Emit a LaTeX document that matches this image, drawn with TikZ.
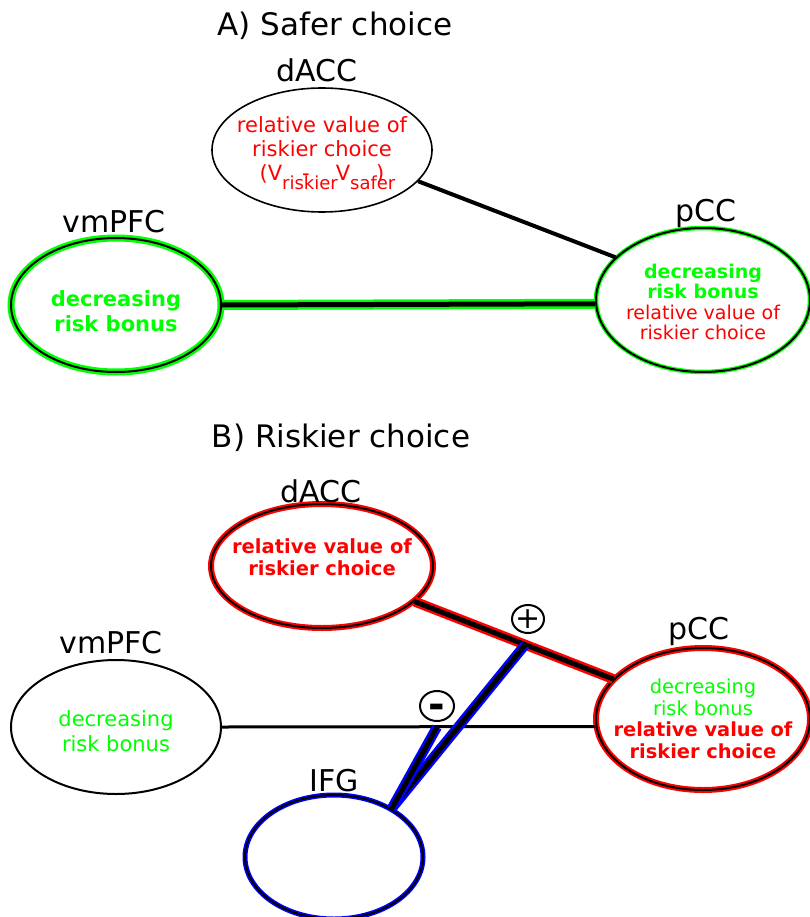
\documentclass[tikz,border=0pt]{standalone}
\usepackage{fontspec}
\setmainfont{DejaVu Sans}
\usetikzlibrary{shapes.geometric,calc}
\definecolor{brgreen}{RGB}{0,255,0}
\definecolor{brred}{RGB}{255,0,0}
\definecolor{brblue}{RGB}{0,0,255}
\newcommand{\gbold}[1]{\textcolor{brgreen}{\bfseries #1}}
\newcommand{\gnorm}[1]{\textcolor{brgreen}{#1}}
\newcommand{\rbold}[1]{\textcolor{brred}{\bfseries #1}}
\newcommand{\rnorm}[1]{\textcolor{brred}{#1}}
\newcommand{\subtxt}[1]{\rlap{\raisebox{-8.5pt}{\fontsize{18}{18}\selectfont #1}}}
\begin{document}
\begin{tikzpicture}[x=1pt,y=-1pt,
  region/.style={ellipse, draw=black, line width=1.6pt, inner sep=0pt, minimum width=#1},
  halo/.style 2 args={preaction={draw=#1, line width=#2}},
  ttl/.style={anchor=base, inner sep=0pt, font=\fontsize{31}{36}\selectfont},
  lbl/.style={anchor=base, inner sep=0pt, font=\fontsize{30}{34}\selectfont},
  txt/.style={align=center, inner sep=0pt},
  conn/.style={draw=black, line width=4pt},
  hconn/.style={draw=black, line width=5pt, preaction={draw=#1, line width=10pt}},
  sign/.style={ellipse, draw=black, line width=2pt, inner sep=0pt, minimum width=32pt, minimum height=28pt}
]
\useasboundingbox (0,0) rectangle (809,917);

% ---------------- A) Safer choice ----------------
\node[ttl] (tA) at (335,36) {A) Safer choice};

\node[region=220pt, minimum height=124pt] (dA) at (322,150) {};
\node[region=210pt, minimum height=134pt, halo={brgreen}{7pt}, line width=2pt] (vA) at (116,305) {};
\node[region=214pt, minimum height=144pt, halo={brgreen}{4.5pt}, line width=2pt] (pA) at (703,300) {};

\node[lbl] (ldA) at (317,82) {dACC};
\node[lbl] (lvA) at (114,233) {vmPFC};
\node[lbl] (lpA) at (706,222) {pCC};

\node[txt, font=\fontsize{21}{24}\selectfont] (tdA) at (322,153)
  {\rnorm{relative value of}\\ \rnorm{riskier choice}\\
   \rnorm{(V\subtxt{riskier}\hspace{20pt}-\hspace{26pt}V\subtxt{safer}\hspace{26pt})}};
\node[txt, font=\fontsize{21}{25}\selectfont] (tvA) at (116,311)
  {\gbold{decreasing}\\ \gbold{risk bonus}};
\node[txt, font=\fontsize{19}{20.5}\selectfont] (tpA) at (703,302)
  {\gbold{decreasing}\\ \gbold{risk bonus}\\ \rnorm{relative value of}\\ \rnorm{riskier choice}};

\draw[conn] (dA.-18) -- (pA.154);
\draw[hconn=brgreen] (vA.east) -- (pA.182);

% ---------------- B) Riskier choice ----------------
\node[ttl] (tB) at (341,447) {B) Riskier choice};

\node[region=222pt, minimum height=124pt, halo={brred}{6pt}, line width=2pt] (dB) at (322,566) {};
\node[region=210pt, minimum height=134pt, line width=2pt] (vB) at (116,727) {};
\node[region=214pt, minimum height=142pt, halo={brred}{6pt}, line width=2pt] (pB) at (703,719) {};
\node[region=178pt, minimum height=124pt, halo={brblue}{5pt}, line width=2pt] (ifg) at (334,857) {};

\node[lbl] (ldB) at (321,502) {dACC};
\node[lbl] (lvB) at (111,653) {vmPFC};
\node[lbl] (lpB) at (699,639) {pCC};
\node[lbl] (lifg) at (334,791) {IFG};

\node[txt, font=\fontsize{19.5}{21.5}\selectfont] (tdB) at (322,557)
  {\rbold{relative value of}\\ \rbold{riskier choice}};
\node[txt, font=\fontsize{21}{25}\selectfont] (tvB) at (116,731)
  {\gnorm{decreasing}\\ \gnorm{risk bonus}};
\node[txt, font=\fontsize{19.4}{21.5}\selectfont] (tpB) at (703,719)
  {\gnorm{decreasing}\\ \gnorm{risk bonus}\\ \rbold{relative value of}\\ \rbold{riskier choice}};

\draw[black, line width=3pt] (vB.east) -- (pB.184);
\draw[hconn=brred] (dB.-21) -- (pB.156);

\coordinate (jplus) at ($(dB.-21)!0.557!(pB.156)$);
\coordinate (jminus) at (437,727);

\draw[hconn=brblue] (ifg.40) -- (jplus);
\draw[hconn=brblue] (ifg.40) -- (jminus);

\node[sign] (plus) at (528,619) {};
\node[inner sep=0pt, font=\fontsize{30}{30}\selectfont] (plust) at (plus.center) {+};
\node[sign, minimum width=34pt, minimum height=30pt] (minus) at (437,706) {};
\node[inner sep=0pt, anchor=base, font=\fontsize{40}{40}\selectfont\bfseries] (minust) at (437,718) {-};
\end{tikzpicture}
\end{document}
